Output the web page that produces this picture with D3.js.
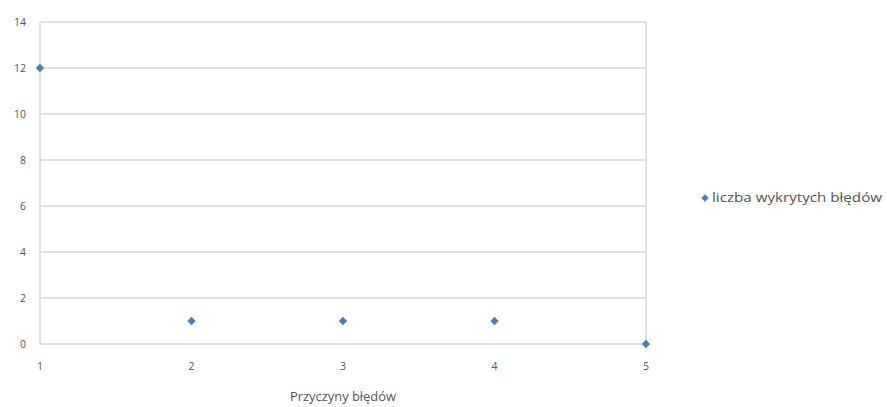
<!DOCTYPE html>
<html><head><meta charset="utf-8">
<script src="https://cdn.jsdelivr.net/npm/d3@7"></script>
<style>body{margin:0;background:#fff;} text{font-family:"Open Sans","Liberation Sans",sans-serif;fill:#555;}</style>
</head><body>
<svg id="c" width="887" height="407"></svg>
<script>
const xValues = [1, 2, 3, 4, 5];
const yValues = [12, 1, 1, 1, 0];
const yTicks = [0, 2, 4, 6, 8, 10, 12, 14];
const seriesName = "liczba wykrytych błędów";
const xTitle = "Przyczyny błędów";

const svg = d3.select("#c");
const x = d3.scaleLinear().domain([1, 5]).range([40, 646]);
const y = d3.scaleLinear().domain([0, 14]).range([344, 22]);

// gridlines
svg.append("g").selectAll("line").data(yTicks).join("line")
  .attr("x1", x(1)).attr("x2", x(5))
  .attr("y1", d => y(d)).attr("y2", d => y(d))
  .attr("stroke", "#d6d6d6").attr("stroke-width", 1.5);
// left & right borders
[1, 5].forEach(v => svg.append("line").attr("x1", x(v)).attr("x2", x(v))
  .attr("y1", y(14)).attr("y2", y(0)).attr("stroke", "#d6d6d6").attr("stroke-width", 1.5));

// y tick labels
svg.append("g").selectAll("text").data(yTicks).join("text")
  .attr("x", 26).attr("y", d => y(d)).attr("dy", "0.35em")
  .attr("text-anchor", "end").attr("font-size", 10.5).text(d => d);
// x tick labels
svg.append("g").selectAll("text").data(xValues).join("text")
  .attr("x", d => x(d)).attr("y", 366).attr("dy", "0.35em")
  .attr("text-anchor", "middle").attr("font-size", 10.5).text(d => d);

// axis title
svg.append("text").attr("x", 343).attr("y", 397).attr("dy", "0.35em")
  .attr("text-anchor", "middle").attr("font-size", 12)
  .attr("textLength", 106).attr("lengthAdjust", "spacingAndGlyphs").text(xTitle);

const diamond = d3.symbol().type(d3.symbolDiamond2).size(44);
svg.append("g").selectAll("path").data(xValues.map((v, i) => [v, yValues[i]])).join("path")
  .attr("d", diamond)
  .attr("transform", d => `translate(${x(d[0])},${y(d[1])})`)
  .attr("fill", "#4a7ebb");

// legend
svg.append("path").attr("d", d3.symbol().type(d3.symbolDiamond2).size(34))
  .attr("transform", "translate(705,198)").attr("fill", "#4a7ebb");
svg.append("text").attr("x", 712).attr("y", 198).attr("dy", "0.35em")
  .attr("font-size", 12.5).attr("textLength", 170).attr("lengthAdjust", "spacingAndGlyphs")
  .text(seriesName);
</script>
</body></html>
